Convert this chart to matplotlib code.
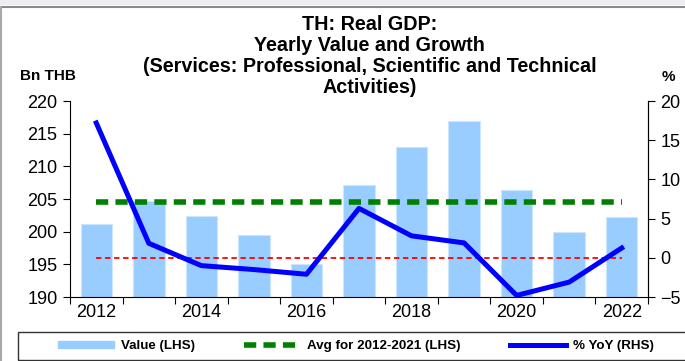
import numpy as np
import matplotlib
matplotlib.use("Agg")
import matplotlib.pyplot as plt
from matplotlib.patches import Rectangle, Patch
from matplotlib.lines import Line2D

plt.rcParams["font.family"] = ["Liberation Sans", "DejaVu Sans"]

# data
years = [2012, 2013, 2014, 2015, 2016, 2017, 2018, 2019, 2020, 2021, 2022]
value = [201.1, 204.7, 202.4, 199.5, 195.1, 207.2, 212.9, 216.9, 206.4, 199.9, 202.3]
yoy = [17.2, 1.85, -1.0, -1.5, -2.1, 6.3, 2.8, 1.9, -4.8, -3.1, 1.25]
avg_2012_2021 = np.mean(value[:10])
tick_years = [2012, 2014, 2016, 2018, 2020, 2022]

fig = plt.figure(figsize=(6.85, 3.61), dpi=100)
ax = fig.add_axes([70 / 685, 1 - 297 / 361, 578 / 685, 196 / 361])
ax2 = ax.twinx()

x = np.arange(len(years))
ax.bar(x, value, width=0.6, color="#99CCFF", edgecolor="#CCE6FF", linewidth=0.8, zorder=1)
ax.plot([x[0], x[-1]], [avg_2012_2021] * 2, color="#008000", lw=4, dashes=(2.2, 1.3), zorder=3)
ax2.plot([x[0], x[-1]], [0, 0], color="red", lw=1.3, dashes=(3, 2), zorder=2)
ax2.plot(x, yoy, color="#0000FF", lw=3.6, zorder=4)

ax.set_xlim(-0.5, len(years) - 0.5)
ax.set_ylim(190, 220)
ax2.set_ylim(-5, 20)
ax.set_yticks(range(190, 221, 5))
ax2.set_yticks(range(-5, 21, 5))

# ticks sit between the bars, labels every second year
ax.set_xticks(np.arange(-0.5, len(years), 1))
ax.set_xticklabels([])
ax.set_xticks([years.index(y) for y in tick_years], minor=True)
ax.set_xticklabels([str(y) for y in tick_years], minor=True)
ax.tick_params(axis="x", which="minor", length=0, labelsize=13, pad=5)
ax.tick_params(axis="x", which="major", length=5, direction="out")
ax.tick_params(axis="y", labelsize=13, length=5, direction="out", pad=4)
ax2.tick_params(axis="y", labelsize=13, length=5, direction="out", pad=4)

for a in (ax, ax2):
    a.spines["top"].set_visible(False)
ax2.spines["left"].set_visible(False)
ax2.spines["bottom"].set_visible(False)

ax2.set_zorder(ax.get_zorder() + 1)
ax2.patch.set_visible(False)

fig.text(0.54, 0.958, "TH: Real GDP:\nYearly Value and Growth\n(Services: Professional, Scientific and Technical\nActivities)",
         ha="center", va="top", fontsize=14.2, fontweight="bold", linespacing=1.12)
fig.text(20 / 685, 1 - 76 / 361, "Bn THB", ha="left", va="center", fontsize=11, fontweight="bold")
fig.text(662 / 685, 1 - 77 / 361, "%", ha="left", va="center", fontsize=11, fontweight="bold")

# frame bits of the screenshot
fig.patches.append(Rectangle((0, 1 - 5 / 361), 1, 5 / 361, transform=fig.transFigure,
                             facecolor="#ECECF2", edgecolor="none"))
fig.add_artist(Line2D([0, 1], [1 - 6.5 / 361] * 2, transform=fig.transFigure, color="#8A8A8A", lw=1.5))
fig.add_artist(Line2D([1 / 685] * 2, [0, 1 - 6.5 / 361], transform=fig.transFigure, color="#A8A8A8", lw=1.5))

# legend box along the bottom
fig.patches.append(Rectangle((18 / 685, 1 / 361), 680 / 685, 28.5 / 361, transform=fig.transFigure,
                             fill=False, edgecolor="#333333", lw=1))
handles = [Patch(facecolor="#99CCFF", edgecolor="#99CCFF"),
           Line2D([], [], color="#008000", lw=4, dashes=(2.2, 1.3)),
           Line2D([], [], color="#0000FF", lw=3.6)]
labels = ["Value (LHS)", "Avg for 2012-2021 (LHS)", "% YoY (RHS)"]
fig.legend(handles, labels, loc="center", bbox_to_anchor=(356 / 685, 1 - 346.5 / 361), ncol=3,
           frameon=False, prop={"weight": "bold", "size": 9.6}, handlelength=4.2, handleheight=0.45,
           handletextpad=0.5, columnspacing=3.7)

fig.savefig("out.png", dpi=100)
